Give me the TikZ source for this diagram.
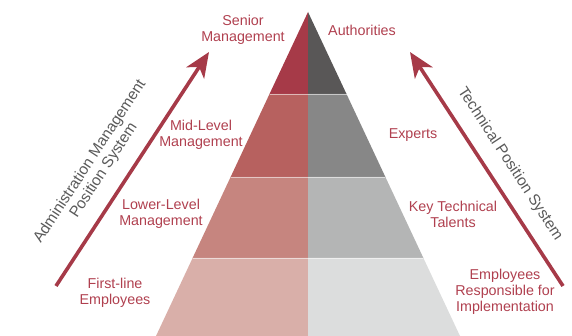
\documentclass[tikz,border=0pt]{standalone}
\usepackage{fontspec}
\setmainfont{Liberation Sans}
\usetikzlibrary{arrows.meta}
\definecolor{redA}{HTML}{A63A48}
\definecolor{redB}{HTML}{B7615F}
\definecolor{redC}{HTML}{C6857F}
\definecolor{redD}{HTML}{D9AFA9}
\definecolor{grayA}{HTML}{595757}
\definecolor{grayB}{HTML}{878787}
\definecolor{grayC}{HTML}{B4B5B5}
\definecolor{grayD}{HTML}{DCDDDD}
\definecolor{labred}{HTML}{B0404F}
\definecolor{sidetext}{HTML}{5A5A5A}
\tikzset{
  lab/.style={text=labred, align=center, font=\fontsize{14.3}{16}\selectfont, inner sep=0pt},
  side/.style={text=sidetext, align=center, font=\fontsize{15.4}{16.5}\selectfont, inner sep=0pt},
  arr/.style={draw=redA, line width=3.6pt, -{Stealth[length=25pt, width=21pt, inset=7pt]}},
  sep/.style={draw=white, line width=0.8pt, opacity=0.55}
}
\begin{document}
\begin{tikzpicture}[x=1pt, y=-1pt]
\useasboundingbox (0,0) rectangle (572,336);
% pyramid bands
\fill[redA]  (308,12) -- (308,94) -- (269.5,94) -- cycle;
\fill[grayA] (308,12) -- (308,94) -- (346.5,94) -- cycle;
\fill[redB]  (269.5,94) -- (308,94) -- (308,177) -- (230.6,177) -- cycle;
\fill[grayB] (346.5,94) -- (308,94) -- (308,177) -- (385.4,177) -- cycle;
\fill[redC]  (230.6,177) -- (308,177) -- (308,258) -- (192.6,258) -- cycle;
\fill[grayC] (385.4,177) -- (308,177) -- (308,258) -- (423.4,258) -- cycle;
\fill[redD]  (192.6,258) -- (308,258) -- (308,336) -- (156,336) -- cycle;
\fill[grayD] (423.4,258) -- (308,258) -- (308,336) -- (460,336) -- cycle;
\coordinate (s1l) at (269.5,94);  \coordinate (s1r) at (346.5,94);
\coordinate (s2l) at (230.6,177); \coordinate (s2r) at (385.4,177);
\coordinate (s3l) at (192.6,258); \coordinate (s3r) at (423.4,258);
\draw[sep] (s1l) -- (s1r);
\draw[sep] (s2l) -- (s2r);
\draw[sep] (s3l) -- (s3r);
% arrows
\coordinate (la1) at (56,286);
\coordinate (la2) at (209,52);
\coordinate (ra1) at (563,286);
\coordinate (ra2) at (410,52);
\draw[arr] (la1) -- (la2);
\draw[arr] (ra1) -- (ra2);
% side texts
\node[side, rotate=56.8] (admin) at (97,166) {Administration Management\\Position System};
\node[side, rotate=-56.8] (tech) at (510,164) {Technical Position System};
% labels
\node[lab] (senior) at (243,30) {Senior\\Management};
\node[lab] (auth) at (362,30) {Authorities};
\node[lab] (mid) at (201,135) {Mid-Level\\Management};
\node[lab] (exp) at (413,135) {Experts};
\node[lab] (lower) at (161,214) {Lower-Level\\Management};
\node[lab] (key) at (453,214) {Key Technical\\Talents};
\node[lab] (first) at (115,293) {First-line\\Employees};
\node[lab] (emp) at (505,292) {Employees\\Responsible for\\Implementation};
\end{tikzpicture}
\end{document}
